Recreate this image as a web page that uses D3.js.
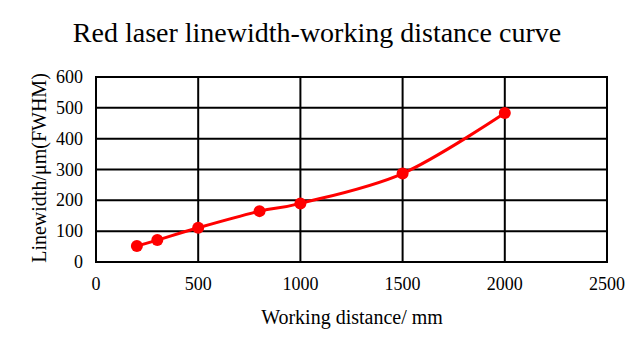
<!DOCTYPE html>
<html>
<head>
<meta charset="utf-8">
<script src="https://cdn.jsdelivr.net/npm/d3@7"></script>
<style>
  body { margin: 0; background: #fff; }
  text { font-family: "Liberation Serif", "Times New Roman", serif; fill: #000; }
</style>
</head>
<body>
<script>
var distance = [200, 300, 500, 800, 1000, 1500, 2000];
var linewidth = [52, 71, 111, 165, 190, 287, 483];
var xTicks = [0, 500, 1000, 1500, 2000, 2500];
var yTicks = [0, 100, 200, 300, 400, 500, 600];

var svg = d3.select("body").append("svg")
  .attr("width", 635)
  .attr("height", 352);

var x = d3.scaleLinear().domain([0, 2500]).range([96, 607]);
var y = d3.scaleLinear().domain([0, 600]).range([262, 77]);

svg.append("text")
  .attr("x", 317)
  .attr("y", 42)
  .attr("text-anchor", "middle")
  .attr("font-size", 28)
  .text("Red laser linewidth-working distance curve");

// grid
svg.selectAll("line.h")
  .data(yTicks)
  .enter().append("line")
  .attr("x1", x(0) - 1).attr("x2", x(2500) + 1)
  .attr("y1", function(d) { return y(d); })
  .attr("y2", function(d) { return y(d); })
  .attr("stroke", "#000").attr("stroke-width", 2);

svg.selectAll("line.v")
  .data(xTicks)
  .enter().append("line")
  .attr("y1", y(0) + 1).attr("y2", y(600) - 1)
  .attr("x1", function(d) { return x(d); })
  .attr("x2", function(d) { return x(d); })
  .attr("stroke", "#000").attr("stroke-width", 2);

// tick labels
svg.selectAll("text.xt")
  .data(xTicks)
  .enter().append("text")
  .attr("x", function(d) { return x(d); })
  .attr("y", 290)
  .attr("text-anchor", "middle")
  .attr("font-size", 18)
  .text(function(d) { return d; });

svg.selectAll("text.yt")
  .data(yTicks)
  .enter().append("text")
  .attr("x", 83)
  .attr("y", function(d) { return y(d) + 6; })
  .attr("text-anchor", "end")
  .attr("font-size", 18)
  .text(function(d) { return d; });

svg.append("text")
  .attr("x", 352)
  .attr("y", 324)
  .attr("text-anchor", "middle")
  .attr("font-size", 20)
  .text("Working distance/ mm");

svg.append("text")
  .attr("transform", "translate(46,168) rotate(-90)")
  .attr("text-anchor", "middle")
  .attr("font-size", 20)
  .text("Linewidth/\u03bcm(FWHM)");

var pts = distance.map(function(d, i) { return [d, linewidth[i]]; });

var line = d3.line()
  .x(function(d) { return x(d[0]); })
  .y(function(d) { return y(d[1]); })
  .curve(d3.curveCatmullRom.alpha(0));

svg.append("path")
  .datum(pts)
  .attr("d", line)
  .attr("fill", "none")
  .attr("stroke", "#ff0000")
  .attr("stroke-width", 3);

svg.selectAll("circle")
  .data(pts)
  .enter().append("circle")
  .attr("cx", function(d) { return x(d[0]); })
  .attr("cy", function(d) { return y(d[1]); })
  .attr("r", 6)
  .attr("fill", "#ff0000");
</script>
</body>
</html>
